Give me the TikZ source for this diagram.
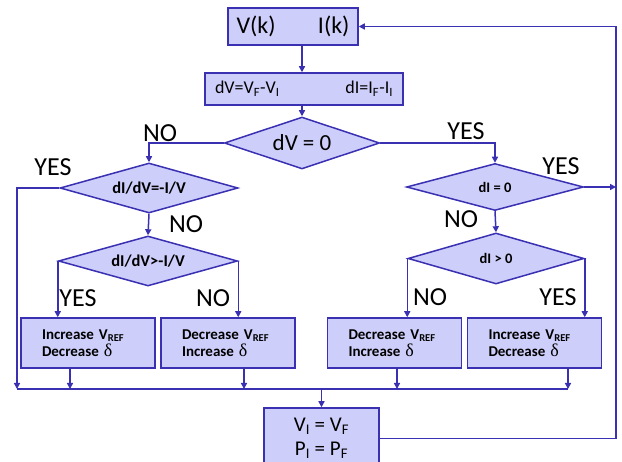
\documentclass[tikz,border=0pt]{standalone}
\usepackage{fontspec}
\setmainfont{Carlito}
\newfontfamily\greekfont{Liberation Serif}
\usetikzlibrary{shapes.geometric,arrows.meta}
\definecolor{boxfill}{RGB}{206,206,250}
\definecolor{boxline}{RGB}{58,48,178}
\newcommand{\dlt}{{\greekfont\mdseries\fontsize{18}{17}\selectfont δ}}
\begin{document}
\begin{tikzpicture}
  [x=1pt,y=-1pt,boxline,line width=1.5pt,
   every node/.style={draw=boxline,fill=boxfill,text=black,inner sep=0pt}]
  \tikzstyle{proc} = [rectangle]
  \tikzstyle{test} = [diamond,aspect=3.4]
  \tikzstyle{act} = [proc,minimum width=134pt,minimum height=50pt,text width=92pt,align=left,font=\bfseries\fontsize{15}{17}\selectfont]
  \tikzstyle{answer} = [draw=none,fill=none,font=\fontsize{26}{28}\selectfont]
  \tikzstyle{arr} = [-{Triangle[length=6pt,width=6pt]}]
  \useasboundingbox (0,0) rectangle (622,462);

  \node[proc,minimum width=130pt,minimum height=37pt,text width=113pt,font=\fontsize{24}{26}\selectfont] (vk) at (293,26.5) {V(k)\hfill I(k)};
  \node[proc,minimum width=198pt,minimum height=32pt,text width=178pt,font=\fontsize{18}{20}\selectfont] (diff) at (304,89) {dV=V\textsubscript{F}-V\textsubscript{I}\hfill dI=I\textsubscript{F}-I\textsubscript{I}};
  \node[test,minimum width=155pt,minimum height=52pt,font=\fontsize{23}{25}\selectfont] (dv0) at (302,143) {dV = 0};
  \node[test,minimum width=178pt,minimum height=50pt,font=\bfseries\fontsize{16.5}{18}\selectfont] (slope1) at (149,188) {dI/dV=-I/V};
  \node[test,minimum width=179pt,minimum height=50pt,font=\bfseries\fontsize{16.5}{18}\selectfont] (slope2) at (148,261) {dI/dV>-I/V};
  \node[test,minimum width=177pt,minimum height=47pt,font=\bfseries\fontsize{14.5}{16}\selectfont] (di0) at (495,187) {dI = 0};
  \node[test,minimum width=176pt,minimum height=51pt,font=\bfseries\fontsize{14.5}{16}\selectfont] (dipos) at (496,258.5) {dI > 0};
  \node[act] (incA) at (88,343) {Increase V\textsubscript{REF}\\Decrease \dlt};
  \node[act] (decA) at (228,343) {Decrease V\textsubscript{REF}\\Increase \dlt};
  \node[act] (decB) at (394.5,343) {Decrease V\textsubscript{REF}\\Increase \dlt};
  \node[act] (incB) at (534.5,343) {Increase V\textsubscript{REF}\\Decrease \dlt};
  \node[proc,minimum width=115pt,minimum height=61pt,align=center,font=\fontsize{21}{24}\selectfont] (upd) at (321.5,438.5) {V\textsubscript{I} = V\textsubscript{F}\\P\textsubscript{I} = P\textsubscript{F}};

  \coordinate (busL) at (17,389);
  \coordinate (busR) at (568,389);
  \coordinate (j1) at (70,389);
  \coordinate (j2) at (244,389);
  \coordinate (j3) at (397,389);
  \coordinate (j4) at (568,389);
  \coordinate (ret) at (616,437);

  \node[answer] (noA) at (160,133) {NO};
  \node[answer] (yesA) at (53,167) {YES};
  \node[answer] (noB) at (186,224) {NO};
  \node[answer] (yesB) at (78,298) {YES};
  \node[answer] (noC) at (213,298) {NO};
  \node[answer] (yesC) at (466,131) {YES};
  \node[answer] (yesD) at (561,166) {YES};
  \node[answer] (noD) at (461,219) {NO};
  \node[answer] (noE) at (430,297) {NO};
  \node[answer] (yesE) at (558,297) {YES};

  \draw[arr] (vk.south -| dv0.north) -- (diff.north -| dv0.north);
  \draw[arr] (diff.south -| dv0.north) -- (dv0.north);
  \draw[arr] (dv0.west) -| (slope1.north);
  \draw[arr] (dv0.east) -| (di0.north);
  \draw[arr] (slope1.south) -- (slope2.north);
  \draw[arr] (slope1.west) -| (busL);
  \draw[arr] (slope2.west) -- (slope2.west |- incA.north);
  \draw[arr] (slope2.east) -- (slope2.east |- decA.north);
  \draw[arr] (di0.south) -- (dipos.north);
  \draw[arr] (di0.east) -- (di0.east -| ret);
  \draw[arr] (dipos.west) -- (dipos.west |- decB.north);
  \draw[arr] (dipos.east) -- (dipos.east |- incB.north);
\foreach \src /\dest in {incA/j1,decA/j2,decB/j3,incB/j4}
   \draw[arr] (\src.south -| \dest) -- (\dest);
  \draw (busL) -- (busR);
  \draw[arr] (upd.north |- busL) -- (upd.north);
  \draw[arr] (upd.east) -- (upd.east -| ret) |- (vk.east);

\end{tikzpicture}
\end{document}
